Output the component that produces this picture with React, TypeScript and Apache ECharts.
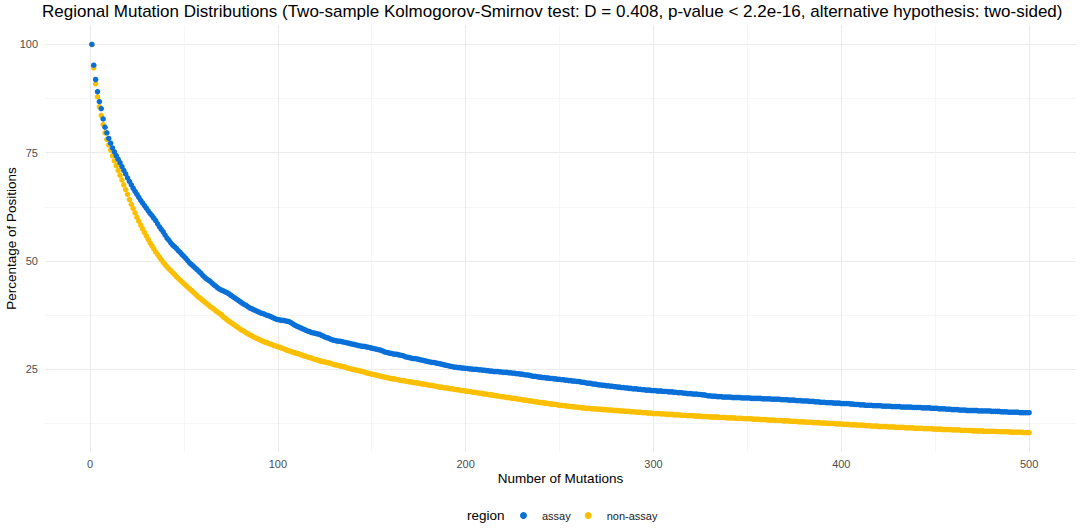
import React, { useEffect, useRef } from "react";
import * as echarts from "echarts";

const chartTitle =
  "Regional Mutation Distributions (Two-sample Kolmogorov-Smirnov test: D = 0.408, p-value < 2.2e-16, alternative hypothesis: two-sided)";
const xAxisTitle = "Number of Mutations";
const yAxisTitle = "Percentage of Positions";
const legendTitle = "region";
const regionNames = ["assay", "non-assay"];

const xTicks = [0, 100, 200, 300, 400, 500];
const xMinorTicks = [50, 150, 250, 350, 450];
const yTicks = [25, 50, 75, 100];
const yMinorTicks = [12.5, 37.5, 62.5, 87.5];

// percentage of positions for 1..500 mutations
const assayPct = [
  100, 95.2, 91.9, 89.1, 86.8, 85.2, 82.8, 80.9, 79.6, 78.3,
  77.2, 76.1, 75.2, 74.3, 73.5, 72.7, 71.8, 70.9, 70.1, 69.2,
  68.4, 67.6, 66.8, 66.1, 65.4, 64.7, 64.0, 63.4, 62.8, 62.2,
  61.6, 61.0, 60.5, 59.9, 59.3, 58.6, 57.9, 57.3, 56.7, 56.0,
  55.3, 54.8, 54.2, 53.7, 53.3, 52.9, 52.4, 52.0, 51.5, 51.1,
  50.6, 50.1, 49.6, 49.2, 48.8, 48.4, 48.0, 47.6, 47.2, 46.7,
  46.3, 45.9, 45.6, 45.3, 44.9, 44.5, 44.2, 43.8, 43.5, 43.3,
  43.1, 42.9, 42.7, 42.4, 42.1, 41.8, 41.5, 41.2, 40.9, 40.6,
  40.3, 40.0, 39.8, 39.5, 39.2, 39.0, 38.8, 38.6, 38.4, 38.2,
  38.0, 37.9, 37.7, 37.5, 37.4, 37.2, 37.0, 36.8, 36.6, 36.5,
  36.4, 36.3, 36.3, 36.2, 36.1, 36.0, 35.8, 35.5, 35.2, 35.0,
  34.8, 34.6, 34.4, 34.2, 34.0, 33.8, 33.7, 33.5, 33.4, 33.3,
  33.2, 33.1, 32.9, 32.7, 32.5, 32.3, 32.2, 32.0, 31.8, 31.7,
  31.6, 31.5, 31.5, 31.4, 31.3, 31.2, 31.1, 31.0, 30.9, 30.8,
  30.7, 30.6, 30.5, 30.4, 30.3, 30.3, 30.2, 30.1, 30.0, 29.9,
  29.8, 29.7, 29.6, 29.5, 29.4, 29.2, 29.0, 28.9, 28.8, 28.7,
  28.6, 28.5, 28.5, 28.4, 28.3, 28.2, 28.1, 27.9, 27.8, 27.7,
  27.6, 27.5, 27.5, 27.4, 27.3, 27.2, 27.1, 27.0, 26.9, 26.8,
  26.7, 26.6, 26.6, 26.5, 26.4, 26.3, 26.2, 26.1, 26.0, 25.9,
  25.8, 25.7, 25.6, 25.5, 25.5, 25.4, 25.4, 25.3, 25.3, 25.2,
  25.2, 25.1, 25.1, 25.0, 25.0, 25.0, 24.9, 24.9, 24.8, 24.8,
  24.7, 24.7, 24.6, 24.6, 24.5, 24.5, 24.5, 24.4, 24.4, 24.3,
  24.3, 24.3, 24.2, 24.2, 24.1, 24.1, 24.0, 24.0, 23.9, 23.9,
  23.8, 23.7, 23.7, 23.6, 23.5, 23.4, 23.4, 23.3, 23.2, 23.2,
  23.1, 23.1, 23.0, 23.0, 22.9, 22.9, 22.8, 22.8, 22.7, 22.7,
  22.6, 22.6, 22.5, 22.5, 22.4, 22.4, 22.3, 22.3, 22.2, 22.2,
  22.1, 22.0, 22.0, 21.9, 21.8, 21.8, 21.7, 21.6, 21.6, 21.5,
  21.4, 21.4, 21.3, 21.3, 21.2, 21.2, 21.1, 21.1, 21.0, 21.0,
  20.9, 20.9, 20.8, 20.8, 20.7, 20.7, 20.6, 20.6, 20.5, 20.5,
  20.5, 20.4, 20.4, 20.3, 20.3, 20.2, 20.2, 20.2, 20.1, 20.1,
  20.1, 20.0, 20.0, 20.0, 19.9, 19.9, 19.9, 19.8, 19.8, 19.8,
  19.7, 19.7, 19.6, 19.6, 19.6, 19.5, 19.5, 19.4, 19.4, 19.4,
  19.3, 19.3, 19.3, 19.2, 19.2, 19.1, 19.1, 19.0, 18.9, 18.9,
  18.8, 18.8, 18.8, 18.7, 18.7, 18.7, 18.6, 18.6, 18.6, 18.6,
  18.6, 18.5, 18.5, 18.5, 18.5, 18.5, 18.4, 18.4, 18.4, 18.4,
  18.4, 18.3, 18.3, 18.3, 18.3, 18.3, 18.3, 18.2, 18.2, 18.2,
  18.2, 18.2, 18.1, 18.1, 18.1, 18.1, 18.1, 18.0, 18.0, 18.0,
  18.0, 17.9, 17.9, 17.9, 17.9, 17.8, 17.8, 17.8, 17.7, 17.7,
  17.7, 17.7, 17.6, 17.6, 17.6, 17.5, 17.5, 17.5, 17.4, 17.4,
  17.4, 17.3, 17.3, 17.3, 17.3, 17.2, 17.2, 17.2, 17.2, 17.1,
  17.1, 17.1, 17.1, 17.1, 17.0, 17.0, 16.9, 16.9, 16.9, 16.8,
  16.8, 16.8, 16.7, 16.7, 16.7, 16.7, 16.6, 16.6, 16.6, 16.6,
  16.6, 16.5, 16.5, 16.5, 16.5, 16.5, 16.4, 16.4, 16.4, 16.4,
  16.4, 16.3, 16.3, 16.3, 16.3, 16.3, 16.3, 16.2, 16.2, 16.2,
  16.2, 16.2, 16.1, 16.1, 16.1, 16.1, 16.1, 16.0, 16.0, 16.0,
  16.0, 15.9, 15.9, 15.9, 15.9, 15.8, 15.8, 15.8, 15.7, 15.7,
  15.7, 15.7, 15.6, 15.6, 15.6, 15.6, 15.5, 15.5, 15.5, 15.5,
  15.5, 15.5, 15.4, 15.4, 15.4, 15.4, 15.4, 15.4, 15.4, 15.3,
  15.3, 15.3, 15.3, 15.3, 15.2, 15.2, 15.2, 15.2, 15.1, 15.1,
  15.1, 15.1, 15.1, 15.1, 15.0, 15.0, 15.0, 15.0, 15.0, 15.0,
];

const nonAssayPct = [
  100, 94.6, 90.9, 87.9, 85.6, 83.6, 81.5, 79.6, 78.1, 76.8,
  75.6, 74.3, 73.1, 72.0, 70.9, 69.8, 68.7, 67.6, 66.5, 65.4,
  64.2, 63.1, 62.1, 61.1, 60.1, 59.2, 58.3, 57.4, 56.6, 55.8,
  55.0, 54.2, 53.5, 52.8, 52.1, 51.5, 50.9, 50.3, 49.7, 49.2,
  48.7, 48.2, 47.8, 47.3, 46.9, 46.4, 46.0, 45.6, 45.2, 44.8,
  44.4, 44.0, 43.6, 43.2, 42.8, 42.4, 42.0, 41.6, 41.3, 40.9,
  40.6, 40.2, 39.9, 39.5, 39.2, 38.9, 38.5, 38.2, 37.9, 37.6,
  37.1, 36.8, 36.4, 36.1, 35.8, 35.5, 35.2, 34.9, 34.6, 34.3,
  34.0, 33.8, 33.5, 33.2, 33.0, 32.8, 32.5, 32.3, 32.1, 31.9,
  31.7, 31.5, 31.3, 31.2, 31.0, 30.8, 30.7, 30.5, 30.4, 30.2,
  30.1, 29.9, 29.8, 29.6, 29.4, 29.3, 29.1, 29.0, 28.8, 28.7,
  28.6, 28.4, 28.3, 28.1, 28.0, 27.8, 27.7, 27.6, 27.4, 27.3,
  27.2, 27.0, 26.9, 26.8, 26.7, 26.6, 26.5, 26.4, 26.2, 26.1,
  26.0, 25.9, 25.8, 25.7, 25.6, 25.5, 25.3, 25.2, 25.1, 25.0,
  24.9, 24.8, 24.7, 24.6, 24.5, 24.4, 24.2, 24.1, 24.0, 23.9,
  23.8, 23.7, 23.6, 23.5, 23.4, 23.3, 23.2, 23.1, 23.0, 22.9,
  22.8, 22.8, 22.7, 22.6, 22.5, 22.4, 22.4, 22.3, 22.2, 22.1,
  22.1, 22.0, 21.9, 21.9, 21.8, 21.7, 21.6, 21.6, 21.5, 21.4,
  21.3, 21.3, 21.2, 21.1, 21.0, 20.9, 20.9, 20.8, 20.7, 20.7,
  20.6, 20.5, 20.5, 20.4, 20.3, 20.3, 20.2, 20.1, 20.1, 20.0,
  19.9, 19.9, 19.8, 19.7, 19.7, 19.6, 19.5, 19.5, 19.4, 19.3,
  19.3, 19.2, 19.1, 19.1, 19.0, 18.9, 18.9, 18.8, 18.7, 18.7,
  18.6, 18.5, 18.5, 18.4, 18.3, 18.3, 18.2, 18.1, 18.1, 18.0,
  17.9, 17.9, 17.8, 17.7, 17.7, 17.6, 17.5, 17.5, 17.4, 17.3,
  17.3, 17.2, 17.2, 17.1, 17.0, 17.0, 16.9, 16.9, 16.8, 16.7,
  16.7, 16.6, 16.6, 16.5, 16.5, 16.4, 16.4, 16.3, 16.3, 16.2,
  16.2, 16.1, 16.1, 16.0, 16.0, 16.0, 15.9, 15.9, 15.9, 15.8,
  15.8, 15.8, 15.7, 15.7, 15.7, 15.6, 15.6, 15.6, 15.5, 15.5,
  15.5, 15.4, 15.4, 15.4, 15.3, 15.3, 15.3, 15.2, 15.2, 15.2,
  15.1, 15.1, 15.1, 15.0, 15.0, 15.0, 14.9, 14.9, 14.9, 14.8,
  14.8, 14.8, 14.8, 14.7, 14.7, 14.7, 14.6, 14.6, 14.6, 14.6,
  14.5, 14.5, 14.5, 14.5, 14.4, 14.4, 14.4, 14.3, 14.3, 14.3,
  14.3, 14.2, 14.2, 14.2, 14.2, 14.1, 14.1, 14.1, 14.1, 14.0,
  14.0, 14.0, 14.0, 14.0, 13.9, 13.9, 13.9, 13.9, 13.8, 13.8,
  13.8, 13.8, 13.8, 13.7, 13.7, 13.7, 13.7, 13.6, 13.6, 13.6,
  13.6, 13.6, 13.5, 13.5, 13.5, 13.5, 13.4, 13.4, 13.4, 13.4,
  13.3, 13.3, 13.3, 13.3, 13.2, 13.2, 13.2, 13.2, 13.1, 13.1,
  13.1, 13.1, 13.0, 13.0, 13.0, 13.0, 12.9, 12.9, 12.9, 12.9,
  12.8, 12.8, 12.8, 12.8, 12.7, 12.7, 12.7, 12.7, 12.6, 12.6,
  12.6, 12.6, 12.5, 12.5, 12.5, 12.5, 12.4, 12.4, 12.4, 12.4,
  12.3, 12.3, 12.3, 12.3, 12.2, 12.2, 12.2, 12.2, 12.1, 12.1,
  12.1, 12.1, 12.0, 12.0, 12.0, 11.9, 11.9, 11.9, 11.9, 11.8,
  11.8, 11.8, 11.8, 11.8, 11.7, 11.7, 11.7, 11.7, 11.6, 11.6,
  11.6, 11.6, 11.6, 11.5, 11.5, 11.5, 11.5, 11.5, 11.4, 11.4,
  11.4, 11.4, 11.4, 11.3, 11.3, 11.3, 11.3, 11.3, 11.2, 11.2,
  11.2, 11.2, 11.2, 11.1, 11.1, 11.1, 11.1, 11.1, 11.0, 11.0,
  11.0, 11.0, 11.0, 10.9, 10.9, 10.9, 10.9, 10.9, 10.9, 10.8,
  10.8, 10.8, 10.8, 10.8, 10.8, 10.7, 10.7, 10.7, 10.7, 10.7,
  10.7, 10.7, 10.6, 10.6, 10.6, 10.6, 10.6, 10.6, 10.6, 10.5,
  10.5, 10.5, 10.5, 10.5, 10.5, 10.5, 10.4, 10.4, 10.4, 10.4,
];

const BLUE = "#0A70D8";
const YELLOW = "#FCBF00";
const FONT = "'Liberation Sans', Arial, Helvetica, sans-serif";

export default function App() {
  const ref = useRef<HTMLDivElement>(null);

  useEffect(() => {
    document.body.style.margin = "0";
    const chart = echarts.init(ref.current!, null, { renderer: "svg" });

    const xMin = -23.95;
    const xMax = 524.95;
    const yMin = 5.92;
    const yMax = 104.48;

    const toPoints = (arr: number[]) => arr.map((v, i) => [i + 1, v]);

    chart.setOption({
      animation: false,
      backgroundColor: "#ffffff",
      textStyle: { fontFamily: FONT },
      title: {
        text: chartTitle,
        left: 42,
        top: 3,
        padding: 0,
        textStyle: {
          fontFamily: FONT,
          fontSize: 17,
          fontWeight: "normal",
          color: "#000000",
        },
      },
      grid: {
        left: 45,
        right: 8,
        top: 25,
        bottom: 77,
        containLabel: false,
        outerBoundsMode: "none",
      },
      legend: {
        data: regionNames,
        left: 520,
        top: 510,
        orient: "horizontal",
        icon: "circle",
        itemWidth: 7,
        itemHeight: 7,
        itemGap: 14,
        padding: 0,
        textStyle: {
          fontFamily: FONT,
          fontSize: 11,
          color: "#1a1a1a",
          padding: [0, 0, 0, 10],
        },
      },
      graphic: [
        {
          type: "text",
          left: 467,
          top: 508,
          style: {
            text: legendTitle,
            fontFamily: FONT,
            fontSize: 13.5,
            fill: "#000000",
          },
        },
      ],
      xAxis: [
        {
          type: "value",
          min: xMin,
          max: xMax,
          name: xAxisTitle,
          nameLocation: "middle",
          nameGap: 19,
          nameMoveOverlap: false,
          nameTextStyle: { fontFamily: FONT, fontSize: 13.5, color: "#000000" },
          axisLine: { show: false },
          axisTick: { show: false, customValues: xTicks },
          axisLabel: {
            customValues: xTicks,
            color: "#4d4d4d",
            fontSize: 11,
            margin: 6,
            fontFamily: FONT,
          },
          splitLine: { show: true, lineStyle: { color: "#ebebeb", width: 1.1 } },
        },
        {
          type: "value",
          min: xMin,
          max: xMax,
          position: "top",
          axisLine: { show: false },
          axisTick: { show: false, customValues: xMinorTicks },
          axisLabel: { show: false, customValues: xMinorTicks },
          splitLine: { show: true, lineStyle: { color: "#f0f0f0", width: 0.6 } },
        },
      ],
      yAxis: [
        {
          type: "value",
          min: yMin,
          max: yMax,
          name: yAxisTitle,
          nameLocation: "middle",
          nameGap: 27,
          nameRotate: 90,
          nameMoveOverlap: false,
          nameTextStyle: { fontFamily: FONT, fontSize: 13.5, color: "#000000" },
          axisLine: { show: false },
          axisTick: { show: false, customValues: yTicks },
          axisLabel: {
            customValues: yTicks,
            color: "#4d4d4d",
            fontSize: 11,
            margin: 7,
            fontFamily: FONT,
          },
          splitLine: { show: true, lineStyle: { color: "#ebebeb", width: 1.1 } },
        },
        {
          type: "value",
          min: yMin,
          max: yMax,
          position: "right",
          axisLine: { show: false },
          axisTick: { show: false, customValues: yMinorTicks },
          axisLabel: { show: false, customValues: yMinorTicks },
          splitLine: { show: true, lineStyle: { color: "#f0f0f0", width: 0.6 } },
        },
      ],
      series: [
        {
          name: regionNames[1],
          type: "scatter",
          xAxisIndex: 0,
          yAxisIndex: 0,
          symbol: "circle",
          symbolSize: 5.5,
          itemStyle: { color: YELLOW, opacity: 1 },
          data: toPoints(nonAssayPct),
        },
        {
          name: regionNames[0],
          type: "scatter",
          xAxisIndex: 0,
          yAxisIndex: 0,
          symbol: "circle",
          symbolSize: 5.5,
          itemStyle: { color: BLUE, opacity: 1 },
          data: toPoints(assayPct),
        },
      ],
    });

    return () => chart.dispose();
  }, []);

  return <div ref={ref} style={{ width: 1084, height: 529 }} />;
}
